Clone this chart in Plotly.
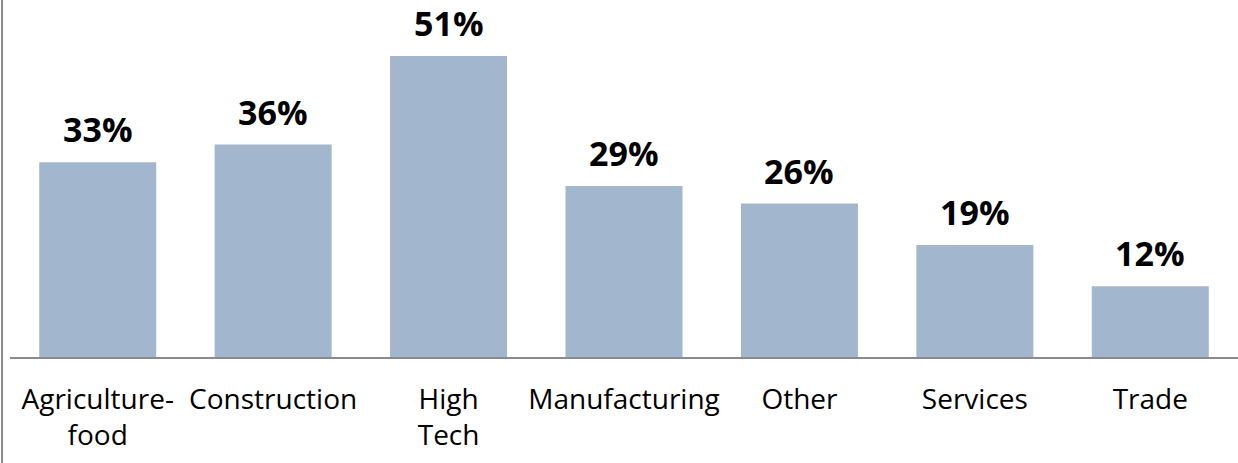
import plotly.graph_objects as go

# Share by sector (%)
sectors = ["Agriculture-<br>food", "Construction", "High<br>Tech", "Manufacturing",
           "Other", "Services", "Trade"]
shares = [33, 36, 51, 29, 26, 19, 12]

bar_color = "#A2B7CE"
axis_gray = "#8A8A8A"

fig = go.Figure()

fig.add_trace(go.Bar(
    x=sectors,
    y=shares,
    marker_color=bar_color,
    marker_line_width=0,
    hoverinfo="skip",
))

# Value labels above bars
for s, v in zip(sectors, shares):
    fig.add_annotation(
        x=s, y=v, text=f"<b>{v}%</b>",
        showarrow=False, yanchor="bottom", yshift=9, borderpad=0,
        font={"size": 34, "color": "#000000", "family": "Open Sans, sans-serif"},
    )

# Left border line spanning full height
fig.add_shape(
    type="line", xref="paper", yref="paper",
    x0=-0.0065, x1=-0.0065, y0=-0.5, y1=1.1,
    line={"color": axis_gray, "width": 2},
)

fig.update_layout(
    width=1238,
    height=463,
    bargap=0.333,
    showlegend=False,
    plot_bgcolor="white",
    paper_bgcolor="white",
    font={"family": "Open Sans, sans-serif", "color": "#000000"},
    margin={"t": 0, "b": 106, "l": 10, "r": 0, "autoexpand": False},
)

fig.update_xaxes(
    automargin=False,
    showgrid=False,
    showline=True,
    linecolor=axis_gray,
    linewidth=2,
    ticks="",
    ticklabelstandoff=16,
    tickfont={"size": 28},
)

fig.update_yaxes(
    automargin=False,
    range=[0, 60.5],
    showgrid=False,
    zeroline=False,
    showline=False,
    showticklabels=False,
    ticks="",
)

fig.write_html("out.html", config={"displayModeBar": False},
               post_script="document.body.style.margin='0';")
